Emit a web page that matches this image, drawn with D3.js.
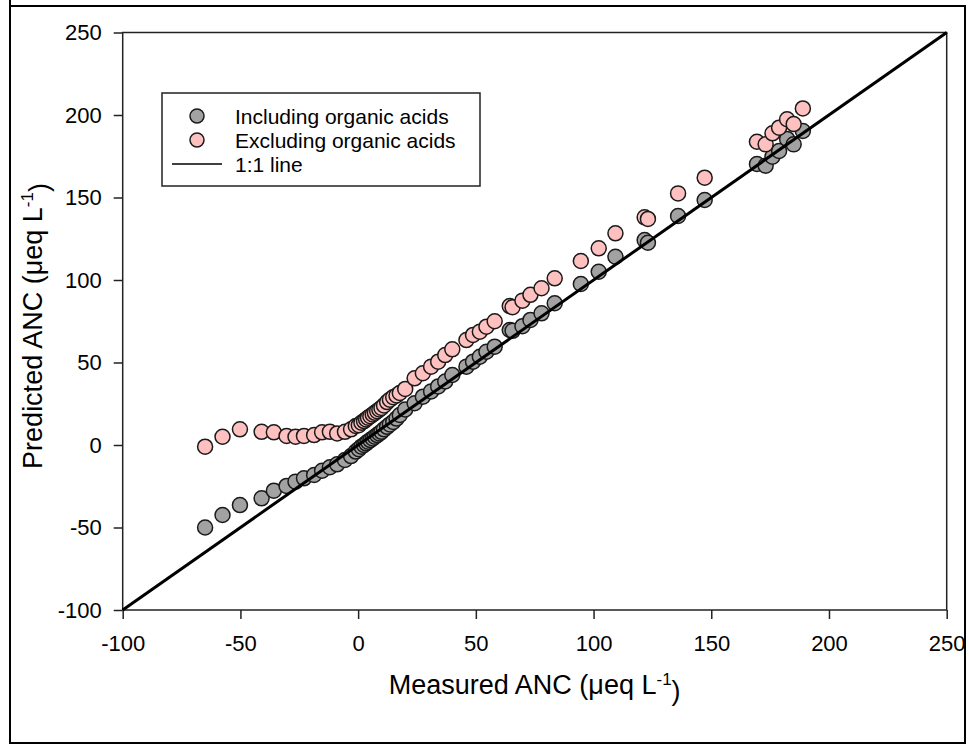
<!DOCTYPE html>
<html>
<head>
<meta charset="utf-8">
<script src="https://cdn.jsdelivr.net/npm/d3@7/dist/d3.min.js"></script>
<style>
  html, body { margin: 0; padding: 0; background: #fff; }
  svg { display: block; font-family: Arial, "Liberation Sans", Helvetica, sans-serif; }
</style>
</head>
<body>
<svg id="chart" width="969" height="746"></svg>
<script>
// ---- Data ----
const measured = [-65, -57.6, -50.2, -41, -35.8, -30.4, -26.6, -23, -18.7, -15.3, -12, -8.9, -5.6, -3, -1,
  0.3, 1.4, 2.5, 3.4, 4.2, 5.2, 6.2, 7.1, 8.1, 9.0, 9.9, 11.0, 12.3, 13.5, 14.9, 16.3, 17.7,
  20, 24, 27.5, 31, 34, 37, 40, 46, 48.8, 51.7, 54.5, 58, 64.4, 65.6, 69.8, 73.2, 77.9, 83.5,
  94.6, 102.2, 109.3, 121.7, 123.1, 135.9, 147.2, 169.4, 173.1, 176, 178.8, 182.2, 185, 188.9];
const includingOrganic = [-50, -42.4, -36.4, -32.3, -27.7, -24.8, -22.2, -20.2, -18.2, -15.6, -13.5, -11.7, -9.1, -6.7, -4,
  -2.5, -1, 0, 1, 2, 3, 4, 5, 6, 7, 8, 9.5, 11, 12.5, 14, 16, 18.2,
  21.5, 25.3, 29.3, 32.5, 35.5, 38.5, 42.4, 47.5, 50.5, 53.5, 56.5, 59.6, 69.7, 69.2, 72, 75.8, 79.8, 85.9,
  97.6, 105, 114.1, 124.2, 122.6, 138.8, 148.5, 170.3, 169.3, 174.7, 178.2, 185.5, 182.2, 190.3];
const excludingOrganic = [-1, 5, 9.5, 8, 7.7, 5.5, 5, 5.5, 6, 7.7, 8, 7, 8, 9.5, 11.5,
  12, 13.5, 14.5, 15.5, 16.5, 17.5, 18.5, 19.5, 20.5, 21.5, 22.5, 24, 26, 27.5, 29, 30, 31.5,
  34, 40.4, 43.5, 47.5, 50.5, 54.5, 58, 63.6, 66.7, 68.7, 71.7, 75, 84.2, 83.5, 87.5, 91, 95, 101,
  111.5, 119.2, 128.3, 138, 137, 152.5, 162, 183.8, 182.2, 188.9, 192.3, 197.4, 194.5, 204];
const xTicks = [-100, -50, 0, 50, 100, 150, 200, 250];
const yTicks = [-100, -50, 0, 50, 100, 150, 200, 250];
const oneToOne = [-100, 250];
const legendLabels = ["Including organic acids", "Excluding organic acids", "1:1 line"];

// ---- Drawing ----
const svg = d3.select("#chart");
svg.append("rect").attr("width", 969).attr("height", 746).attr("fill", "#fff");

const x = d3.scaleLinear().domain([-100, 250]).range([122.7, 946.7]);
const y = d3.scaleLinear().domain([-100, 250]).range([610, 32.5]);

const GRAY = "#a2a2a2", PINK = "#ffc0c0", R = 7.5;

// outer figure frame
svg.append("rect").attr("x", 10).attr("y", 6).attr("width", 955).attr("height", 737)
  .attr("fill", "none").attr("stroke", "#000").attr("stroke-width", 2);
svg.append("line").attr("x1", 10).attr("x2", 10).attr("y1", 0).attr("y2", 6)
  .attr("stroke", "#000").attr("stroke-width", 2);

// plot frame
svg.append("rect").attr("x", x(-100)).attr("y", y(250))
  .attr("width", x(250) - x(-100)).attr("height", y(-100) - y(250))
  .attr("fill", "none").attr("stroke", "#222").attr("stroke-width", 1.5);

const xAxis = svg.append("g").attr("transform", `translate(0,${y(-100)})`)
  .call(d3.axisBottom(x).tickValues(xTicks).tickSize(9).tickPadding(16).tickFormat(d => String(d)));
const yAxis = svg.append("g").attr("transform", `translate(${x(-100)},0)`)
  .call(d3.axisLeft(y).tickValues(yTicks).tickSize(9).tickPadding(12).tickFormat(d => String(d)));
[xAxis, yAxis].forEach(g => {
  g.select(".domain").remove();
  g.selectAll(".tick line").attr("stroke", "#222").attr("stroke-width", 1.5);
  g.selectAll(".tick text").attr("fill", "#000").style("font-size", "22px")
    .style("font-family", "Arial, 'Liberation Sans', sans-serif");
});

// series: including (gray)
const pts = measured.map((m, i) => ({m, inc: includingOrganic[i], exc: excludingOrganic[i]}));
svg.append("g").selectAll("circle").data(pts).join("circle")
  .attr("cx", d => x(d.m)).attr("cy", d => y(d.inc)).attr("r", R)
  .attr("fill", GRAY).attr("stroke", "#1a1a1a").attr("stroke-width", 1.5);

// 1:1 line
svg.append("line")
  .attr("x1", x(oneToOne[0])).attr("y1", y(oneToOne[0]))
  .attr("x2", x(oneToOne[1])).attr("y2", y(oneToOne[1]))
  .attr("stroke", "#000").attr("stroke-width", 3);

// series: excluding (pink)
svg.append("g").selectAll("circle").data(pts).join("circle")
  .attr("cx", d => x(d.m)).attr("cy", d => y(d.exc)).attr("r", R)
  .attr("fill", PINK).attr("stroke", "#1a1a1a").attr("stroke-width", 1.5);

// axis titles
function title(sel, main) {
  sel.append("tspan").text(main);
  sel.append("tspan").text("-1").attr("dy", "-0.55em").style("font-size", "17px");
  sel.append("tspan").text(")").attr("dy", "0.55em").style("font-size", "27px");
}
const xt = svg.append("text").attr("x", (x(-100) + x(250)) / 2).attr("y", 694)
  .attr("text-anchor", "middle").style("font-size", "27px").attr("fill", "#000");
title(xt, "Measured ANC (\u03bceq L");
const yt = svg.append("text").attr("transform", `translate(42,326) rotate(-90)`)
  .attr("text-anchor", "middle").style("font-size", "27px").attr("fill", "#000");
title(yt, "Predicted ANC (\u03bceq L");

// legend
const lg = svg.append("g");
lg.append("rect").attr("x", 162).attr("y", 93).attr("width", 318).attr("height", 93)
  .attr("fill", "#fff").attr("stroke", "#222").attr("stroke-width", 1.5);
const rowsY = [116, 140, 164];
lg.append("circle").attr("cx", 197).attr("cy", rowsY[0]).attr("r", 7)
  .attr("fill", GRAY).attr("stroke", "#1a1a1a").attr("stroke-width", 1.5);
lg.append("circle").attr("cx", 197).attr("cy", rowsY[1]).attr("r", 7)
  .attr("fill", PINK).attr("stroke", "#1a1a1a").attr("stroke-width", 1.5);
lg.append("line").attr("x1", 172).attr("x2", 222).attr("y1", rowsY[2]).attr("y2", rowsY[2])
  .attr("stroke", "#000").attr("stroke-width", 1.5);
lg.selectAll("text.lbl").data(legendLabels).join("text").attr("class", "lbl")
  .attr("x", 235).attr("y", (d, i) => rowsY[i]).attr("dy", "0.36em")
  .style("font-size", "21px").attr("fill", "#000").text(d => d);
</script>
</body>
</html>
